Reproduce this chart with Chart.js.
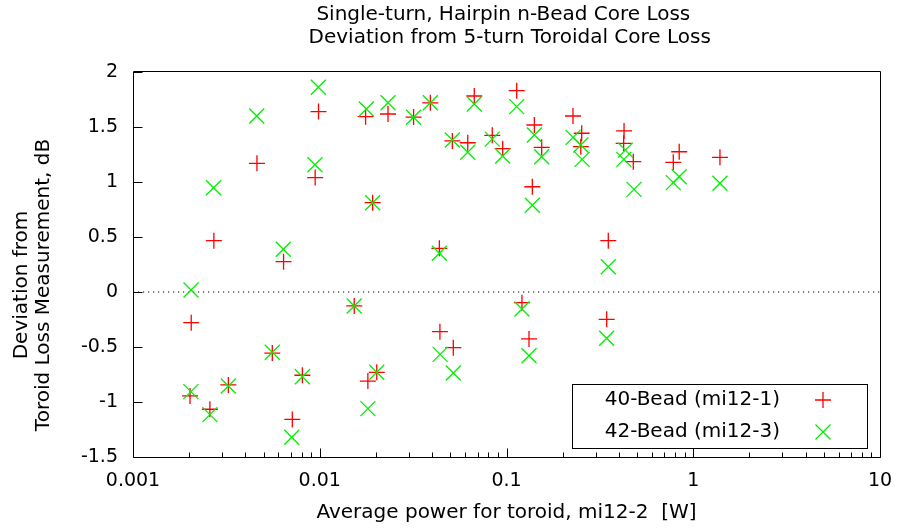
<!DOCTYPE html>
<html><head><meta charset="utf-8">
<script src="https://cdn.jsdelivr.net/npm/chart.js@4.4.0/dist/chart.umd.min.js"></script>
<style>html,body{margin:0;padding:0;background:#fff;} canvas{display:block;}</style>
</head><body>
<canvas id="c" width="899" height="531"></canvas>
<script>
// ---- text ----
const titleLines = ['Single-turn, Hairpin n-Bead Core Loss ', ' Deviation from 5-turn Toroidal Core Loss'];
const xAxisTitle = 'Average power for toroid, mi12-2  [W]';
const yAxisTitle = ['Deviation from', 'Toroid Loss Measurement, dB'];
const seriesNames = ['40-Bead (mi12-1)', '42-Bead (mi12-3)'];

// ---- ticks ----
const xTickValues = [0.001, 0.01, 0.1, 1, 10];
const xTickLabels = ['0.001', '0.01', '0.1', '1', '10'];
const yTickValues = [-1.5, -1, -0.5, 0, 0.5, 1, 1.5, 2];
const yTickLabels = ['-1.5', '-1', '-0.5', '0', '0.5', '1', '1.5', '2'];

// ---- data: 40-Bead (mi12-1) ----
const bead40Power = [0.00202, 0.00205, 0.00258, 0.00271, 0.00324, 0.00461, 0.00557, 0.0064, 0.00713, 0.00807,
  0.00945, 0.00985, 0.0153, 0.0176, 0.0181, 0.0192, 0.0202, 0.0232, 0.0318, 0.0391,
  0.0437, 0.044, 0.0513, 0.0519, 0.062, 0.0672, 0.0839, 0.0954, 0.1134, 0.121,
  0.132, 0.1375, 0.141, 0.1543, 0.227, 0.2527, 0.25, 0.344, 0.3508, 0.426,
  0.424, 0.4775, 0.782, 0.841, 1.39];
const bead40Dev = [-0.945, -0.279, -1.066, 0.467, -0.845, 1.17, -0.555, 0.276, -1.158, -0.757,
  1.04, 1.64, -0.127, 1.594, -0.81, 0.812, -0.73, 1.618, 1.59, 1.72,
  0.397, -0.361, 1.373, -0.506, 1.357, 1.782, 1.424, 1.303, 1.83, -0.097,
  -0.427, 0.957, 1.518, 1.315, 1.6, 1.443, 1.321, -0.248, 0.467, 1.464,
  1.352, 1.185, 1.179, 1.275, 1.224];

// ---- data: 42-Bead (mi12-3) ----
const bead42Power = [0.00204, 0.002045, 0.00258, 0.0027, 0.00324, 0.0046, 0.00557, 0.00638, 0.00708, 0.00807,
  0.00943, 0.00983, 0.0153, 0.01776, 0.0181, 0.0192, 0.0202, 0.0232, 0.0318, 0.0391,
  0.0437, 0.0441, 0.0513, 0.0519, 0.062, 0.0672, 0.0839, 0.0954, 0.1134, 0.121,
  0.132, 0.1375, 0.141, 0.1543, 0.227, 0.25, 0.254, 0.344, 0.3508, 0.433,
  0.425, 0.482, 0.782, 0.841, 1.39];
const bead42Dev = [-0.906, 0.018, -1.115, 0.948, -0.855, 1.6, -0.548, 0.388, -1.321, -0.77,
  1.157, 1.861, -0.127, 1.664, -1.06, 0.812, -0.73, 1.72, 1.588, 1.72,
  0.352, -0.567, 1.382, -0.736, 1.27, 1.709, 1.39, 1.236, 1.685, -0.155,
  -0.579, 0.788, 1.427, 1.23, 1.406, 1.336, 1.206, -0.421, 0.23, 1.29,
  1.206, 0.933, 0.994, 1.048, 0.988];

// ---- zero reference line ----
const zeroLineX = [0.001, 10];
const zeroLineY = [0, 0];

const FONT = "'DejaVu Sans', 'Liberation Sans', sans-serif";
const RED = '#ff0000';
const GREEN = '#00f000';

function pts(xs, ys) { return xs.map((x, i) => ({ x: x, y: ys[i] })); }

const framePlugin = {
  id: 'frame',
  afterDraw(chart) {
    const { ctx, chartArea: a, scales } = chart;
    const xs = scales.x, ys = scales.y;
    const L = Math.round(a.left), R = Math.round(a.right), T = Math.round(a.top), B = Math.round(a.bottom);
    ctx.save();
    ctx.strokeStyle = '#000';
    ctx.lineWidth = 1;
    ctx.beginPath();
    ctx.rect(L + 0.5, T - 0.5, R - L, B - T + 1);
    ctx.stroke();
    // x ticks (inward, bottom only)
    ctx.beginPath();
    for (let d = -3; d <= 1; d++) {
      for (let m = 1; m <= 9; m++) {
        const v = m * Math.pow(10, d);
        if (v > 10.0001) break;
        const px = Math.round(xs.getPixelForValue(v)) + 0.5;
        const len = (m === 1) ? 9 : 5;
        ctx.moveTo(px, B + 0.5);
        ctx.lineTo(px, B + 0.5 - len);
      }
    }
    // y ticks (inward, left only)
    yTickValues.forEach(v => {
      const py = Math.round(ys.getPixelForValue(v)) + 0.5;
      ctx.moveTo(L + 0.5, py);
      ctx.lineTo(L + 0.5 + 9, py);
    });
    ctx.stroke();

    // y axis title (two rotated lines)
    ctx.fillStyle = '#000';
    ctx.font = '20px ' + FONT;
    ctx.textAlign = 'center';
    ctx.textBaseline = 'middle';
    const cy = 285;
    const lineX = [22, 44];
    yAxisTitle.forEach((t, i) => {
      ctx.save();
      ctx.translate(lineX[i], cy);
      ctx.rotate(-Math.PI / 2);
      ctx.fillText(t, 0, 0);
      ctx.restore();
    });

    // legend box
    const bx = 572.5, by = 384.5, bw = 295, bh = 64;
    ctx.strokeStyle = '#000';
    ctx.lineWidth = 1;
    ctx.strokeRect(bx, by, bw, bh);
    ctx.textAlign = 'right';
    const rows = [400, 432];
    const styles = [
      { pointStyle: 'cross', radius: 8, color: RED },
      { pointStyle: 'crossRot', radius: 10.6, color: GREEN }
    ];
    seriesNames.forEach((name, i) => {
      ctx.fillStyle = '#000';
      ctx.fillText(name, 780, rows[i]);
      const s = styles[i];
      ctx.strokeStyle = s.color;
      ctx.fillStyle = s.color;
      ctx.lineWidth = 1.3;
      Chart.helpers.drawPoint(ctx, { pointStyle: s.pointStyle, radius: s.radius, rotation: 0, borderWidth: 1.3 }, 823, rows[i]);
    });
    ctx.restore();
  }
};

new Chart(document.getElementById('c').getContext('2d'), {
  type: 'scatter',
  data: {
    datasets: [
      { label: seriesNames[0], data: pts(bead40Power, bead40Dev), pointStyle: 'cross', pointRadius: 8,
        borderColor: RED, backgroundColor: RED, pointBorderWidth: 1.3, order: 2 },
      { label: seriesNames[1], data: pts(bead42Power, bead42Dev), pointStyle: 'crossRot', pointRadius: 10.6,
        borderColor: GREEN, backgroundColor: GREEN, pointBorderWidth: 1.3, order: 1 },
      { type: 'line', label: 'zero', data: pts(zeroLineX, zeroLineY), borderColor: '#000', borderWidth: 1.2,
        borderDash: [1.2, 3.8], pointRadius: 0, fill: false, order: 3 }
    ]
  },
  options: {
    responsive: false,
    animation: false,
    devicePixelRatio: 1,
    events: [],
    layout: { padding: { left: 0, right: 19, top: 0, bottom: 0 } },
    plugins: {
      legend: { display: false },
      tooltip: { enabled: false },
      title: {
        display: true, text: titleLines, fullSize: false, color: '#000',
        font: { family: FONT, size: 20, weight: 'normal', lineHeight: 1.15 },
        padding: { top: 3, bottom: 23 }
      }
    },
    scales: {
      x: {
        type: 'logarithmic', min: 0.001, max: 10,
        grid: { display: false, drawTicks: false },
        border: { display: false },
        afterBuildTicks: s => { s.ticks = xTickValues.map(v => ({ value: v, major: true })); },
        ticks: {
          autoSkip: false, maxRotation: 0, padding: 13, color: '#000',
          font: { family: FONT, size: 19 },
          callback: v => { const i = xTickValues.indexOf(v); return i >= 0 ? xTickLabels[i] : ''; }
        },
        title: { display: true, text: xAxisTitle, color: '#000', font: { family: FONT, size: 20 }, padding: { top: 0, bottom: 6 } },
        afterFit: s => { s.height = 74; s.paddingLeft = 0; s.paddingRight = 0; }
      },
      y: {
        min: -1.5, max: 2,
        grid: { display: false, drawTicks: false },
        border: { display: false },
        afterBuildTicks: s => { s.ticks = yTickValues.map(v => ({ value: v })); },
        ticks: {
          padding: 15, color: '#000', font: { family: FONT, size: 19 },
          callback: v => { const i = yTickValues.indexOf(v); return i >= 0 ? yTickLabels[i] : ''; }
        },
        title: { display: false },
        afterFit: s => { s.width = 133; s.paddingTop = 0; s.paddingBottom = 0; }
      }
    }
  },
  plugins: [framePlugin]
});
</script>
</body></html>
